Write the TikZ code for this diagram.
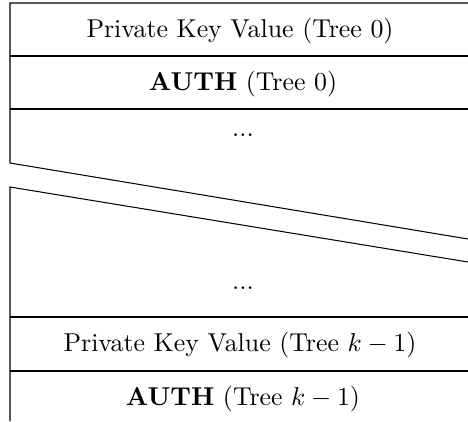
\documentclass[tikz,border=0pt]{standalone}
\begin{document}
\begin{tikzpicture}[x=0.387pt,y=-0.387pt,
  lbl/.style={anchor=base,inner sep=0pt},
  edge/.style={line width=0.4pt}]
\useasboundingbox (0,0) rectangle (468,421);
% upper block
\coordinate (ua) at (10,3);
\coordinate (ub) at (468,3);
\coordinate (uc) at (10,163);
\coordinate (ud) at (468,239);
\draw[edge] (ub) -- (ua) -- (uc) -- (ud);
\draw[edge] (10,56) -- (468,56);
\draw[edge] (10,109) -- (468,109);
% lower block
\coordinate (la) at (10,187);
\coordinate (lb) at (468,262);
\coordinate (lc) at (10,421);
\draw[edge] (lb) -- (la) -- (lc);
\draw[edge] (10,317) -- (468,317);
\draw[edge] (10,371) -- (468,371);
% labels
\node[lbl] (t1) at (240,37) {Private Key Value (Tree 0)};
\node[lbl] (t2) at (243,90) {\textbf{AUTH} (Tree 0)};
\node[lbl] (t3) at (243,136) {...};
\node[lbl] (t4) at (243,289) {...};
\node[lbl] (t5) at (240,351) {Private Key Value (Tree $k-1$)};
\node[lbl] (t6) at (243,405) {\textbf{AUTH} (Tree $k-1$)};
\end{tikzpicture}
\end{document}
